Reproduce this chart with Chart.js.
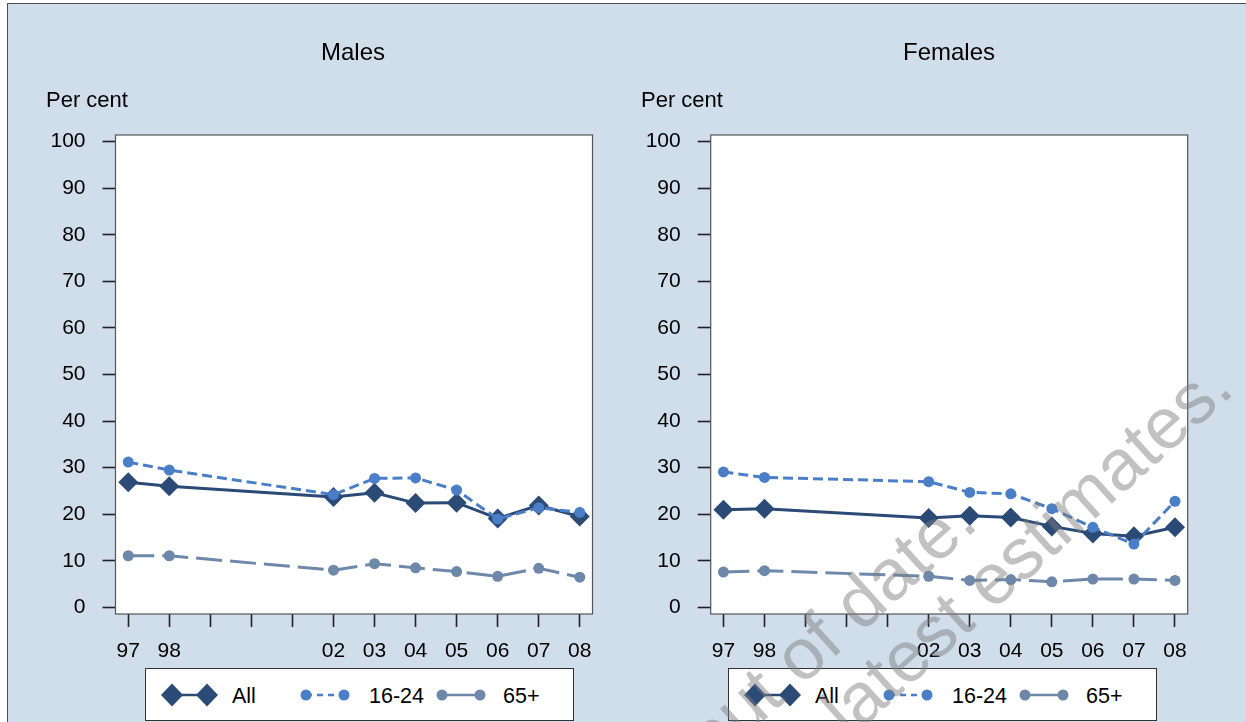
<!DOCTYPE html>
<html>
<head>
<meta charset="utf-8">
<script src="https://cdn.jsdelivr.net/npm/chart.js@4.4.1/dist/chart.umd.min.js"></script>
<style>
  body { margin: 0; width: 1246px; height: 722px; overflow: hidden; position: relative; background: #fff;
         font-family: 'Liberation Sans', Arial, sans-serif; color: #000; }
  #frame { position: absolute; left: 7px; top: 3px; width: 1260px; height: 740px; background: #d0ddeb;
           border-left: 1.5px solid #4d4d4d; border-top: 1.5px solid #4d4d4d; }
  canvas.panel { position: absolute; top: 0; }
  .title { position: absolute; top: 40px; font-size: 24px; line-height: 24px; transform: translateX(-50%); white-space: nowrap; }
  .unit { position: absolute; top: 89px; font-size: 22px; line-height: 22px; white-space: nowrap; }
  svg.legend { position: absolute; top: 668px; }
  #mark { position: absolute; left: 0; top: 0; pointer-events: none; }
</style>
</head>
<body>
<div id="frame"></div>
<canvas id="males" class="panel" width="620" height="660" style="left:0px"></canvas>
<canvas id="females" class="panel" width="620" height="660" style="left:595px"></canvas>
<div class="title" style="left:353px">Males</div>
<div class="title" style="left:949px">Females</div>
<div class="unit" style="left:46px">Per cent</div>
<div class="unit" style="left:641px">Per cent</div>
<svg id="legM" class="legend" width="429" height="54" style="left:145px"></svg>
<svg id="legF" class="legend" width="429" height="54" style="left:728px"></svg>
<canvas id="mark" width="1246" height="722"></canvas>

<script>
// survey years plotted, axis ticks and labels
const years = [1997, 1998, 2002, 2003, 2004, 2005, 2006, 2007, 2008];
const tickYears = [1997, 1998, 1999, 2000, 2001, 2002, 2003, 2004, 2005, 2006, 2007, 2008];
const tickLabels = ['97', '98', '', '', '', '02', '03', '04', '05', '06', '07', '08'];
const yTicks = [0, 10, 20, 30, 40, 50, 60, 70, 80, 90, 100];
const seriesNames = ['All', '16-24', '65+'];

// per cent
const malesAll    = [26.9, 26.0, 23.7, 24.6, 22.4, 22.5, 19.1, 21.9, 19.5];
const males1624   = [31.2, 29.5, 24.2, 27.7, 27.8, 25.2, 19.0, 21.4, 20.4];
const males65     = [11.1, 11.1, 8.0, 9.4, 8.5, 7.7, 6.7, 8.4, 6.5];
const femalesAll  = [21.0, 21.2, 19.2, 19.7, 19.3, 17.4, 15.9, 15.3, 17.2];
const females1624 = [29.1, 27.9, 27.0, 24.7, 24.4, 21.2, 17.2, 13.6, 22.8];
const females65   = [7.6, 7.9, 6.7, 5.8, 6.0, 5.5, 6.1, 6.1, 5.8];

const styles = [
  { color: '#2b4a76', dash: [], point: 'rectRot', radius: 10, order: 1 },
  { color: '#4a7ec6', dash: [10, 5], point: 'circle', radius: 5.5, order: 0 },
  { color: '#6e88aa', dash: [26, 8], point: 'circle', radius: 5.5, order: 2 }
];

const font = { family: "'Liberation Sans', Arial, sans-serif", size: 21 };

// white plot box with grey border
const plotBox = {
  id: 'plotBox',
  beforeDraw(chart) {
    const a = chart.chartArea, c = chart.ctx;
    c.save();
    c.fillStyle = '#fff';
    c.fillRect(a.left, a.top, a.right - a.left, a.bottom - a.top);
    c.restore();
  },
  afterDraw(chart) {
    const a = chart.chartArea, c = chart.ctx;
    c.save();
    c.strokeStyle = '#555';
    c.lineWidth = 1.2;
    c.strokeRect(a.left, a.top, a.right - a.left, a.bottom - a.top);
    c.restore();
  }
};

function makePanel(id, series, yWidth, padRight) {
  return new Chart(document.getElementById(id), {
    type: 'line',
    data: {
      datasets: seriesNames.map((name, i) => ({
        label: name,
        data: years.map((yr, j) => ({ x: yr, y: series[i][j] })),
        borderColor: styles[i].color,
        backgroundColor: styles[i].color,
        borderWidth: 3,
        borderDash: styles[i].dash,
        pointStyle: styles[i].point,
        pointRadius: styles[i].radius,
        pointBorderWidth: 0,
        tension: 0,
        order: styles[i].order
      }))
    },
    options: {
      responsive: false,
      animation: false,
      layout: { padding: { top: 135, right: padRight, left: 0, bottom: 0 } },
      plugins: { legend: { display: false }, tooltip: { enabled: false } },
      scales: {
        x: {
          type: 'linear', min: 1996.69, max: 2008.31,
          afterBuildTicks: s => { s.ticks = tickYears.map(v => ({ value: v })); },
          afterFit: s => { s.height = 46; },
          ticks: { callback: (v, i) => tickLabels[i], autoSkip: false, maxRotation: 0,
                   padding: 12, color: '#000', font: font },
          grid: { drawOnChartArea: false, tickLength: 13, tickColor: '#222', tickWidth: 1.6 },
          border: { display: false }
        },
        y: {
          min: -1.4, max: 101.4,
          afterBuildTicks: s => { s.ticks = yTicks.map(v => ({ value: v })); },
          afterFit: s => { s.width = yWidth; },
          ticks: { padding: 17, color: '#000', font: font },
          grid: { drawOnChartArea: false, tickLength: 13, tickColor: '#222', tickWidth: 1.6 },
          border: { display: false }
        }
      }
    },
    plugins: [plotBox]
  });
}

makePanel('males', [malesAll, males1624, males65], 115.5, 27.5);
makePanel('females', [femalesAll, females1624, females65], 115.7, 27.3);

// legends
function drawLegend(id) {
  const svg = document.getElementById(id);
  const cy = 27;
  const symX = [[27, 62], [161, 199], [297, 335]];
  const textX = [87, 224, 358];
  let h = '<rect x="0.5" y="0.5" width="428" height="52" fill="#fff" stroke="#333" stroke-width="1"/>';
  seriesNames.forEach((name, i) => {
    const st = styles[i], [a, b] = symX[i];
    const dash = i === 1 ? ' stroke-dasharray="6 5"' : '';
    h += `<line x1="${a}" y1="${cy}" x2="${b}" y2="${cy}" stroke="${st.color}" stroke-width="2.5"${dash}/>`;
    [a, b].forEach(x => {
      if (st.point === 'rectRot') {
        h += `<polygon points="${x},${cy - 11.5} ${x + 11},${cy} ${x},${cy + 11.5} ${x - 11},${cy}" fill="${st.color}"/>`;
      } else {
        h += `<circle cx="${x}" cy="${cy}" r="5.5" fill="${st.color}"/>`;
      }
    });
    h += `<text x="${textX[i]}" y="${cy + 7.5}" font-family="'Liberation Sans', Arial, sans-serif" font-size="21.5" fill="#000">${name}</text>`;
  });
  svg.innerHTML = h;
}
drawLegend('legM');
drawLegend('legF');

// diagonal watermark
const mc = document.getElementById('mark').getContext('2d');
mc.font = "72px 'Liberation Sans', Arial, sans-serif";
mc.fillStyle = 'rgba(125,125,125,0.48)';
mc.textAlign = 'right';
mc.textBaseline = 'alphabetic';
[['out of date.', 980, 526], ['latest estimates.', 1236, 392]].forEach(([t, x, y]) => {
  mc.save();
  mc.translate(x, y);
  mc.rotate(-42 * Math.PI / 180);
  mc.fillText(t, 0, 0);
  mc.restore();
});
</script>
</body>
</html>
